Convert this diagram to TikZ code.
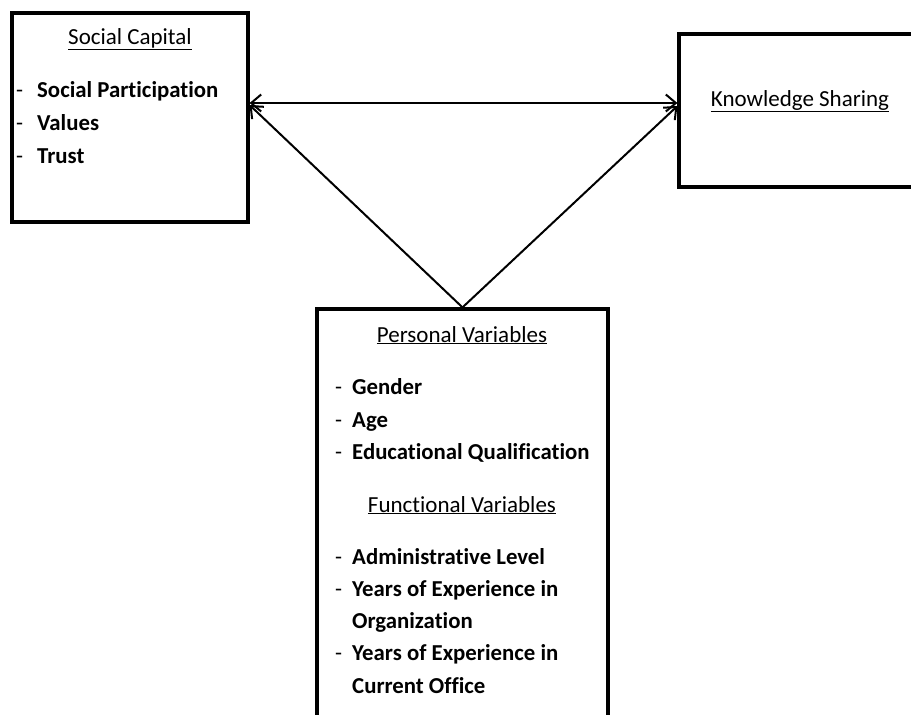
\documentclass[tikz,border=0pt]{standalone}
\usepackage{fontspec}
\setmainfont{Carlito}[Ligatures=NoCommon]
\usetikzlibrary{arrows.meta}
\begin{document}
\begin{tikzpicture}[x=1pt,y=-1pt,
  box/.style={draw,line width=3.2pt,inner sep=0pt,outer sep=1.6pt,minimum width=#1},
  title/.style={anchor=base,inner sep=0pt,font=\fontsize{23}{27}\selectfont},
  item/.style={anchor=base west,inner sep=0pt,font=\fontsize{22.8}{27}\selectfont\bfseries},
  arr/.style={line width=2pt,-{Straight Barb[length=10pt,width=17pt,line width=2pt]}},
  dbl/.style={line width=2pt,{Straight Barb[length=10pt,width=17pt,line width=2pt]}-{Straight Barb[length=10pt,width=17pt,line width=2pt]}}]
\clip (0,0) rectangle (911,715);
\fill[white] (0,0) rectangle (911,715);
% boxes
\node[box=236pt,minimum height=209pt] (sc) at (130,117.5) {};
\node[box=246pt,minimum height=153pt] (ks) at (802,110.5) {};
\node[box=291pt,minimum height=421pt] (pv) at (462.5,519.5) {};
% social capital text
\node[title] (sct) at (130,44) {\underline{Social Capital}};
\node[item] (sc1) at (16,97) {\makebox[21pt][l]{\mdseries -}Social Participation};
\node[item] (sc2) at (16,130) {\makebox[21pt][l]{\mdseries -}Values};
\node[item] (sc3) at (16,163) {\makebox[21pt][l]{\mdseries -}Trust};
% knowledge sharing
\node[title] (kst) at (800,106) {\underline{Knowledge Sharing}};
% personal variables
\node[title] (pvt) at (462,342) {\underline{Personal Variables}};
\node[item] (p1) at (335,394) {\makebox[17pt][l]{\mdseries -}Gender};
\node[item] (p2) at (335,427) {\makebox[17pt][l]{\mdseries -}Age};
\node[item] (p3) at (335,459) {\makebox[17pt][l]{\mdseries -}Educational Qualification};
\node[title] (fvt) at (462,512) {\underline{Functional Variables}};
\node[item] (f1) at (335,564) {\makebox[17pt][l]{\mdseries -}Administrative Level};
\node[item] (f2) at (335,596) {\makebox[17pt][l]{\mdseries -}Years of Experience in};
\node[item] (f3) at (352,628) {Organization};
\node[item] (f4) at (335,660) {\makebox[17pt][l]{\mdseries -}Years of Experience in};
\node[item] (f5) at (352,693) {Current Office};
% arrows
\draw[dbl] ([yshift=14.5pt]sc.east) -- ([yshift=7.5pt]ks.west);
\draw[arr] (pv.north) -- ([yshift=12.5pt]sc.east);
\draw[arr] (pv.north) -- ([yshift=4.5pt]ks.west);
\end{tikzpicture}
\end{document}
